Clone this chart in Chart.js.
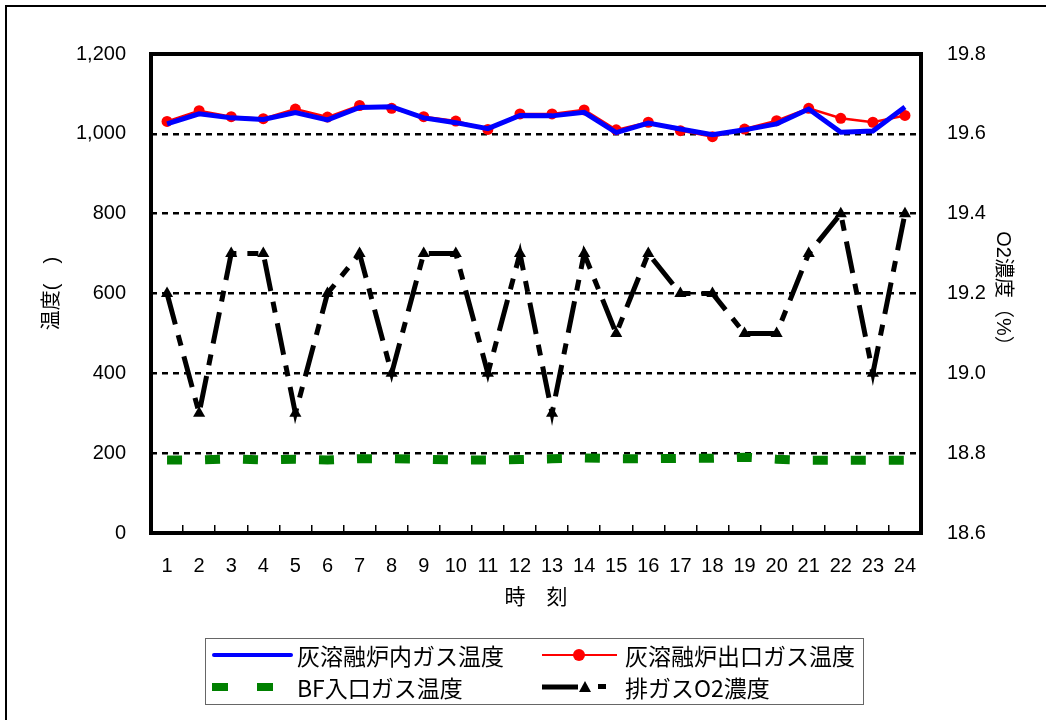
<!DOCTYPE html>
<html>
<head>
<meta charset="utf-8">
<script src="https://cdn.jsdelivr.net/npm/chart.js@4.4.1/dist/chart.umd.min.js"></script>
<style>
    body { margin: 0; background: #fff; }
    #wrap { position: relative; width: 1046px; height: 720px; overflow: hidden; }
    #frame { position: absolute; left: 5px; top: 5px; width: 1100px; height: 800px; border-left: 2px solid #000; border-top: 2px solid #000; }
    #legend { position: absolute; left: 205px; top: 638px; width: 657px; height: 65px; border: 1px solid #666; font-family: 'Noto Sans CJK JP', sans-serif; font-size: 23px; color: #000; }
    .item { position: absolute; height: 32px; width: 320px; }
    .item svg { position: absolute; left: 0; top: 0; }
    .item span { position: absolute; left: 85px; top: 0; line-height: 32px; white-space: nowrap; }
</style>
</head>
<body>
<div id="wrap">
    <div id="frame"></div>
    <canvas id="myChart" width="1046" height="720"></canvas>
    <div id="legend">
        <div class="item" style="left:6px; top:0px">
            <svg width="82" height="32"><line x1="2" y1="16" x2="79" y2="16" stroke="#0000ff" stroke-width="4" stroke-linecap="round"/></svg>
            <span>灰溶融炉内ガス温度</span>
        </div>
        <div class="item" style="left:334px; top:0px">
            <svg width="82" height="32"><line x1="2" y1="16" x2="77" y2="16" stroke="#ff0000" stroke-width="2"/><circle cx="39" cy="16" r="6" fill="#ff0000"/></svg>
            <span>灰溶融炉出口ガス温度</span>
        </div>
        <div class="item" style="left:6px; top:32px">
            <svg width="82" height="32"><rect x="0" y="12" width="16" height="8" fill="#008000"/><rect x="45" y="12" width="16" height="8" fill="#008000"/></svg>
            <span>BF入口ガス温度</span>
        </div>
        <div class="item" style="left:334px; top:32px">
            <svg width="82" height="32"><line x1="2" y1="16" x2="38" y2="16" stroke="#000" stroke-width="5"/><polygon points="45,10 51,21 39,21" fill="#000"/><rect x="58" y="13" width="8" height="5" fill="#000"/></svg>
            <span>排ガスO2濃度</span>
        </div>
    </div>
</div>
<script>
const hours = ['1', '2', '3', '4', '5', '6', '7', '8', '9', '10', '11', '12',
    '13', '14', '15', '16', '17', '18', '19', '20', '21', '22', '23', '24'];

// 灰溶融炉内ガス温度
const innerTemp = [1025, 1050, 1040, 1036, 1053, 1035, 1066, 1068, 1040, 1028, 1013, 1046,
    1045, 1054, 1003, 1027, 1012, 998, 1010, 1025, 1062, 1004, 1007, 1067];

// 灰溶融炉出口ガス温度
const outletTemp = [1031, 1058, 1043, 1038, 1062, 1042, 1071, 1064, 1043, 1032, 1011, 1050,
    1050, 1060, 1010, 1029, 1008, 993, 1012, 1033, 1064, 1039, 1029, 1046];

// BF入口ガス温度
const bfTemp = [183, 183, 186, 183, 185, 183, 186, 186, 185, 183, 183, 184,
    186, 188, 186, 186, 187, 187, 190, 185, 182, 182, 182, 182];

// 排ガスO2濃度
const o2 = [19.2, 18.9, 19.3, 19.3, 18.9, 19.2, 19.3, 19.0, 19.3, 19.3, 19.0, 19.3,
    18.9, 19.3, 19.1, 19.3, 19.2, 19.2, 19.1, 19.1, 19.3, 19.4, 19.0, 19.4];

const FONT = "'Liberation Sans', 'Noto Sans CJK JP', sans-serif";

const plotFrame = {
    id: 'plotFrame',
    afterDraw(chart) {
        let { ctx, chartArea } = chart
        ctx.save()
        ctx.lineWidth = 4
        ctx.strokeStyle = '#000'
        ctx.strokeRect(chartArea.left, chartArea.top, chartArea.right - chartArea.left, chartArea.bottom - chartArea.top)
        ctx.restore()
    }
};

const data = {
    labels: hours,
    datasets: [
        {
            label: '排ガスO2濃度',
            data: o2,
            yAxisID: 'y2',
            borderColor: '#000',
            backgroundColor: '#000',
            borderWidth: 5,
            borderDash: [32, 11, 11, 11],
            borderCapStyle: 'butt',
            pointStyle: 'triangle',
            pointRadius: 7,
            pointBorderWidth: 0,
            tension: 0
        },
        {
            label: 'BF入口ガス温度',
            data: bfTemp,
            yAxisID: 'y',
            borderColor: '#008000',
            borderWidth: 9,
            borderDash: [15, 23],
            borderCapStyle: 'butt',
            pointRadius: 0,
            tension: 0
        },
        {
            label: '灰溶融炉内ガス温度',
            data: innerTemp,
            yAxisID: 'y',
            borderColor: '#0000ff',
            borderWidth: 5,
            pointRadius: 0,
            tension: 0
        },
        {
            label: '灰溶融炉出口ガス温度',
            data: outletTemp,
            yAxisID: 'y',
            borderColor: '#ff0000',
            backgroundColor: '#ff0000',
            borderWidth: 2.5,
            pointRadius: 5.5,
            pointBorderWidth: 0,
            tension: 0
        }
    ]
};

const config = {
    type: 'line',
    data: data,
    plugins: [plotFrame],
    options: {
        responsive: false,
        animation: false,
        devicePixelRatio: 1,
        layout: { padding: { top: 54, left: 0, right: 0, bottom: 0 } },
        plugins: {
            legend: { display: false },
            tooltip: { enabled: false }
        },
        scales: {
            x: {
                offset: true,
                afterFit: scale => { scale.height = 187 },
                grid: {
                    display: true,
                    drawOnChartArea: false,
                    drawTicks: true,
                    tickLength: -8,
                    color: '#000',
                    lineWidth: 1.5,
                    offset: true
                },
                border: { display: false },
                ticks: {
                    color: '#000',
                    padding: 29,
                    maxRotation: 0,
                    autoSkip: false,
                    font: { family: FONT, size: 20 }
                },
                title: {
                    display: true,
                    text: '時　刻',
                    color: '#000',
                    font: { family: FONT, size: 21 },
                    padding: { top: 0, bottom: 109 }
                }
            },
            y: {
                position: 'left',
                min: 0,
                max: 1200,
                afterFit: scale => { scale.width = 151 },
                grid: {
                    color: ctx => (ctx.tick.value == 0 || ctx.tick.value == 1200) ? 'rgba(0,0,0,0)' : '#000',
                    lineWidth: 2.5,
                    drawTicks: false
                },
                border: { display: false, dash: [6, 5] },
                ticks: {
                    stepSize: 200,
                    color: '#000',
                    padding: 25,
                    font: { family: FONT, size: 20 },
                    callback: v => v.toLocaleString('en-US')
                },
                title: {
                    display: true,
                    text: '温度(　)',
                    color: '#000',
                    font: { family: FONT, size: 20 },
                    padding: { top: 40, bottom: 0 }
                }
            },
            y2: {
                position: 'right',
                min: 18.6,
                max: 19.8,
                afterFit: scale => { scale.width = 125 },
                grid: { display: false, drawOnChartArea: false },
                border: { display: false },
                ticks: {
                    stepSize: 0.2,
                    color: '#000',
                    padding: 18,
                    font: { family: FONT, size: 20 },
                    callback: v => v.toFixed(1)
                },
                title: {
                    display: true,
                    text: 'O2濃度（%）',
                    color: '#000',
                    font: { family: FONT, size: 20 },
                    padding: { top: 31, bottom: 0 }
                }
            }
        }
    }
};

const myChart = new Chart(document.getElementById('myChart').getContext('2d'), config);
</script>
</body>
</html>
